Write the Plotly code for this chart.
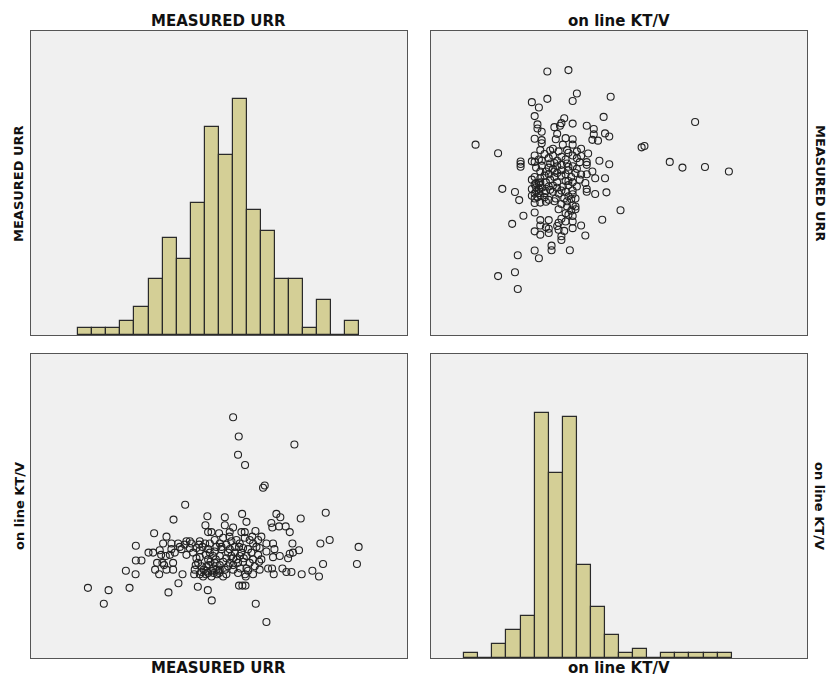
import plotly.graph_objects as go

# ---- data ----
urr_bin_starts = [57, 58, 59, 60, 61, 62, 63, 64, 65, 66, 67, 68, 69, 70, 71, 72, 73, 74, 75, 76]
urr_counts = [1, 1, 1, 2, 4, 8, 14, 11, 19, 30, 26, 34, 18, 15, 8, 8, 1, 5, 0, 2]
urr_bin_width = 1.0

ktv_bin_starts = [0.8, 0.9, 1.0, 1.1, 1.2, 1.3, 1.4, 1.5, 1.6, 1.7, 1.8, 1.9, 2.0, 2.1, 2.2, 2.3, 2.4, 2.5, 2.6]
ktv_counts = [1, 0, 3, 6, 9, 53, 40, 52, 20, 11, 5, 1, 2, 0, 1, 1, 1, 1, 1]
ktv_bin_width = 0.1

urr = [57.69, 58.82, 59.16, 60.39, 60.65, 61.10, 61.10, 61.50, 61.08, 62.40, 62.00, 62.33, 62.80, 62.76,
       62.61, 62.90, 62.47, 63.28, 63.04, 63.63, 62.99, 63.11, 63.75, 63.28, 63.75, 63.42, 63.78, 63.52,
       63.87, 63.23, 63.63, 64.61, 64.11, 64.70, 64.94, 64.35, 64.94, 64.70, 64.42, 64.13, 64.23, 64.58,
       65.65, 65.41, 65.65, 65.41, 65.65, 65.93, 65.65, 65.89, 65.25, 65.51, 65.17, 65.53, 65.77, 65.29,
       65.84, 65.60, 65.06, 65.77, 65.36, 66.19, 66.05, 66.24, 66.48, 66.03, 66.24, 66.83, 66.24, 66.60,
       66.71, 66.60, 66.83, 66.12, 66.24, 66.12, 66.48, 66.22, 66.50, 66.36, 66.71, 66.08, 66.41, 66.79,
       66.31, 66.64, 66.48, 66.88, 66.08, 66.36, 66.71, 67.43, 67.43, 67.78, 67.02, 67.31, 67.76, 67.07,
       67.54, 67.78, 67.07, 67.54, 67.07, 67.43, 67.54, 67.02, 67.00, 67.19, 67.66, 67.31, 67.78, 67.07,
       67.90, 67.31, 67.66, 67.19, 67.90, 68.02, 68.42, 68.37, 68.87, 68.66, 68.97, 68.02, 68.61, 68.85,
       68.49, 68.14, 68.73, 68.02, 68.49, 68.97, 68.37, 68.73, 68.97, 68.92, 68.02, 68.54, 68.87, 68.44,
       68.68, 68.90, 68.26, 68.61, 68.14, 68.37, 68.26, 68.78, 68.02, 68.44, 68.85, 69.61, 69.44, 69.68,
       69.08, 69.91, 69.44, 69.08, 69.44, 69.91, 69.63, 69.20, 69.80, 69.32, 69.80, 69.56, 69.20, 69.87,
       69.39, 70.27, 70.15, 70.74, 70.81, 70.03, 70.39, 70.86, 70.39, 70.03, 70.86, 70.51, 70.79, 70.91,
       70.39, 70.96, 71.10, 71.38, 71.29, 71.76, 71.34, 71.93, 71.53, 71.81, 72.38, 72.83, 72.05, 72.24,
       72.05, 72.71, 72.28, 72.17, 72.90, 73.66, 74.61, 74.23, 74.89, 74.42, 74.13, 76.95, 76.83]

ktv = [1.18, 1.04, 1.16, 1.33, 1.18, 1.55, 1.42, 1.42, 1.30, 1.66, 1.49, 1.49, 1.51, 1.30,
       1.40, 1.47, 1.34, 1.63, 1.57, 1.52, 1.40, 1.38, 1.40, 1.34, 1.34, 1.14, 1.78, 1.47,
       1.49, 1.46, 1.57, 1.91, 1.57, 1.59, 1.59, 1.52, 1.53, 1.47, 1.30, 1.22, 1.54, 1.56,
       1.59, 1.53, 1.51, 1.44, 1.45, 1.34, 1.30, 1.28, 1.30, 1.19, 1.49, 1.40, 1.37, 1.34,
       1.54, 1.56, 1.57, 1.32, 1.38, 1.81, 1.73, 1.67, 1.67, 1.57, 1.52, 1.54, 1.43, 1.46,
       1.40, 1.35, 1.34, 1.37, 1.31, 1.33, 1.33, 1.16, 1.07, 1.49, 1.50, 1.47, 1.41, 1.43,
       1.38, 1.31, 1.28, 1.30, 1.30, 1.57, 1.60, 1.80, 1.73, 1.67, 1.66, 1.62, 1.63, 1.57,
       1.56, 1.52, 1.46, 1.44, 1.38, 1.34, 1.30, 1.31, 1.33, 1.52, 1.49, 1.41, 1.40, 1.34,
       1.46, 1.28, 1.37, 1.54, 1.59, 2.68, 2.51, 2.35, 2.26, 1.83, 1.76, 1.71, 1.67, 1.67,
       1.57, 1.54, 1.53, 1.44, 1.46, 1.46, 1.40, 1.41, 1.35, 1.28, 1.34, 1.35, 1.30, 1.20,
       1.20, 1.20, 1.60, 1.49, 1.49, 1.31, 1.43, 1.44, 1.38, 1.54, 1.62, 1.68, 1.57, 1.54,
       1.52, 1.53, 1.43, 1.33, 1.30, 1.34, 1.04, 1.60, 1.60, 1.49, 1.47, 1.37, 1.40, 1.41,
       1.63, 2.08, 2.06, 1.75, 1.71, 1.63, 1.57, 1.57, 1.50, 1.43, 1.45, 1.35, 1.35, 1.30,
       0.88, 1.52, 1.83, 1.80, 1.72, 1.72, 1.46, 1.44, 1.35, 1.32, 2.44, 1.79, 1.67, 1.57,
       1.48, 1.51, 1.49, 1.32, 1.30, 1.33, 1.84, 1.57, 1.60, 1.39, 1.28, 1.54, 1.39]

urr_range = [53.64, 80.39]
ktv_range = [0.5636, 3.235]
urr_hist_max = 43.8
ktv_hist_max = 65.7

# ---- styling ----
BAR_FILL = "rgb(212,207,150)"
BAR_LINE = "#2a2a2a"
BG = "#f0f0f0"
FRAME = "#555555"
FONT = "DejaVu Sans"

fig = go.Figure()

fig.add_trace(go.Bar(
    x=[s + urr_bin_width / 2 for s in urr_bin_starts], y=urr_counts, width=urr_bin_width,
    marker=dict(color=BAR_FILL, line=dict(color=BAR_LINE, width=1.2)),
    xaxis="x", yaxis="y", showlegend=False))

fig.add_trace(go.Scatter(
    x=ktv, y=urr, mode="markers",
    marker=dict(symbol="circle-open", size=7, color="#222222", line=dict(width=1.1)),
    xaxis="x2", yaxis="y2", showlegend=False))

fig.add_trace(go.Scatter(
    x=urr, y=ktv, mode="markers",
    marker=dict(symbol="circle-open", size=7, color="#222222", line=dict(width=1.1)),
    xaxis="x3", yaxis="y3", showlegend=False))

fig.add_trace(go.Bar(
    x=[s + ktv_bin_width / 2 for s in ktv_bin_starts], y=ktv_counts, width=ktv_bin_width,
    marker=dict(color=BAR_FILL, line=dict(color=BAR_LINE, width=1.2)),
    xaxis="x4", yaxis="y4", showlegend=False))

ax_common = dict(showticklabels=False, ticks="", showgrid=False, zeroline=False,
                 showline=True, mirror=True, linecolor=FRAME, linewidth=1)

xl = [0, 0.4845]
xr = [0.5155, 1]
yt = [0.5152, 1]
yb = [0, 0.4848]

fig.update_layout(
    width=829, height=677,
    margin=dict(l=31, r=22, t=31, b=19),
    paper_bgcolor="white", plot_bgcolor=BG,
    bargap=0,
    xaxis=dict(domain=xl, range=urr_range, anchor="y", **ax_common),
    yaxis=dict(domain=yt, range=[0, urr_hist_max], anchor="x", **ax_common),
    xaxis2=dict(domain=xr, range=ktv_range, anchor="y2", **ax_common),
    yaxis2=dict(domain=yt, range=urr_range, anchor="x2", **ax_common),
    xaxis3=dict(domain=xl, range=urr_range, anchor="y3", **ax_common),
    yaxis3=dict(domain=yb, range=ktv_range, anchor="x3", **ax_common),
    xaxis4=dict(domain=xr, range=ktv_range, anchor="y4", **ax_common),
    yaxis4=dict(domain=yb, range=[0, ktv_hist_max], anchor="x4", **ax_common),
)

def label(text, x, y, angle=0, size=15):
    fig.add_annotation(text=text, x=x, y=y, xref="paper", yref="paper",
                       showarrow=False, textangle=angle,
                       xanchor="center", yanchor="middle",
                       font=dict(family=FONT, size=size, color="#111111", weight="bold"))

cx_l = sum(xl) / 2
cx_r = sum(xr) / 2
cy_t = sum(yt) / 2
cy_b = sum(yb) / 2

label("MEASURED URR", cx_l, 1.016)
label("on line KT/V", cx_r, 1.016)
label("MEASURED URR", cx_l, -0.016)
label("on line KT/V", cx_r, -0.016)
label("MEASURED URR", -0.0155, cy_t, angle=-90, size=13)
label("on line KT/V", -0.0155, cy_b, angle=-90, size=13)
label("MEASURED URR", 1.0168, cy_t, angle=90, size=13)
label("on line KT/V", 1.0168, cy_b, angle=90, size=13)

fig.write_html("out.html")
